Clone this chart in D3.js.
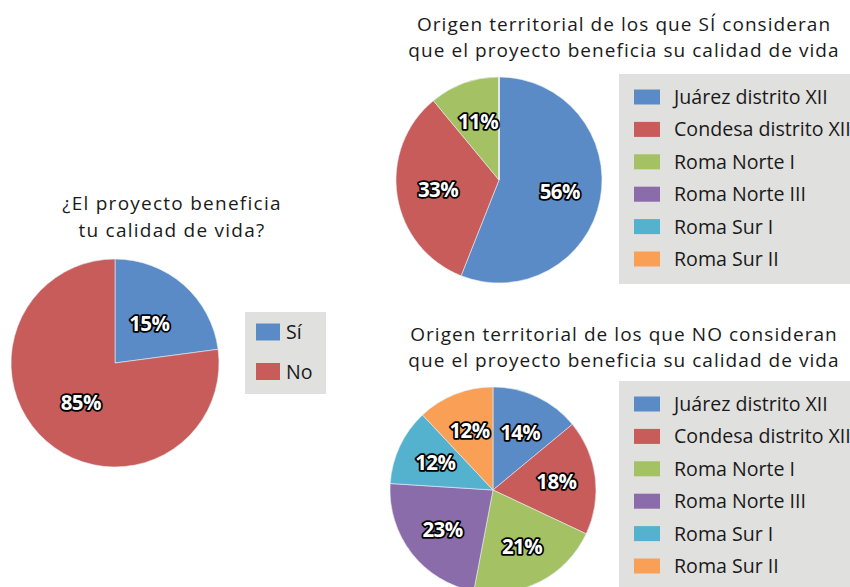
<!DOCTYPE html>
<html><head><meta charset="utf-8">
<script src="https://cdn.jsdelivr.net/npm/d3@7"></script>
<style>
html,body{margin:0;padding:0;background:#fff;}
svg text{font-family:"Open Sans","Noto Sans",sans-serif;}
</style></head>
<body>
<svg id="chart" width="850" height="587"></svg>
<script>
// ---- data ----
const mainCategories = ["Sí", "No"];
const mainLabels = ["15%", "85%"];          // printed labels
const mainShares = [22.9, 77.1];            // slice sizes as drawn in the picture
const districts = ["Juárez distrito XII", "Condesa distrito XII", "Roma Norte I", "Roma Norte III", "Roma Sur I", "Roma Sur II"];
const siValues = [56, 33, 11, 0, 0, 0];
const noValues = [14, 18, 21, 23, 12, 12];
const titleMain = ["¿El proyecto beneficia", "tu calidad de vida?"];
const titleSi = ["Origen territorial de los que SÍ consideran", "que el proyecto beneficia su calidad de vida"];
const titleNo = ["Origen territorial de los que NO consideran", "que el proyecto beneficia su calidad de vida"];

const mainColors = ["#5b8bc6", "#c75c5a"];
const districtColors = ["#5b8bc6", "#c75c5a", "#a4c163", "#8a6caa", "#55b2cf", "#f9a056"];

const svg = d3.select("#chart");

function drawTitle(lines, cx, y0, lh, fs, ls) {
  lines.forEach((l, i) => svg.append("text").attr("text-anchor", "middle")
    .attr("font-size", fs).attr("letter-spacing", ls).attr("fill", "#1a1a1a")
    .attr("x", cx).attr("y", y0 + i * lh).text(l));
}

function drawPie(values, labels, colors, cx, cy, r, labelFrac) {
  const g = svg.append("g").attr("transform", `translate(${cx},${cy})`);
  const pie = d3.pie().sort(null).value(d => d);
  const arcs = pie(values);
  const arc = d3.arc().innerRadius(0).outerRadius(r);
  g.selectAll("path").data(arcs).join("path")
    .attr("d", arc).attr("fill", (d, i) => colors[i])
    .attr("stroke", "#e8eef5").attr("stroke-width", 0.6);
  const la = d3.arc().innerRadius(r * labelFrac).outerRadius(r * labelFrac);
  g.selectAll("text").data(arcs.filter(d => d.data > 0)).join("text")
    .attr("transform", d => `translate(${la.centroid(d)})`)
    .attr("text-anchor", "middle").attr("dy", "0.36em")
    .attr("font-size", 20.5).attr("font-weight", "bold")
    .attr("letter-spacing", "-0.6")
    .attr("fill", "#fff").attr("stroke", "#000").attr("stroke-width", 3.6)
    .attr("stroke-linejoin", "round").attr("paint-order", "stroke")
    .text(d => labels[d.index]);
}

function drawLegend(names, colors, x, y, w, h, sx, sy0, step, sw, sh, tx) {
  const g = svg.append("g");
  g.append("rect").attr("x", x).attr("y", y).attr("width", w).attr("height", h).attr("fill", "#e0e0de");
  names.forEach((n, i) => {
    const cy = sy0 + i * step;
    g.append("rect").attr("x", sx).attr("y", cy - sh / 2).attr("width", sw).attr("height", sh).attr("fill", colors[i]);
    g.append("text").attr("x", tx).attr("y", cy).attr("dy", "0.36em")
      .attr("font-size", 19.6).attr("fill", "#1a1a1a").text(n);
  });
}

// Left chart
drawTitle(titleMain, 172, 210, 26.5, 19, 1.25);
drawPie(mainShares, mainLabels, mainColors, 115, 363, 104, 0.5);
drawLegend(mainCategories, mainColors, 245, 312, 81, 82, 256, 332, 39.5, 24, 17, 286);

// Top right chart
drawTitle(titleSi, 624, 31, 26, 19, 1.05);
drawPie(siValues, siValues.map(v => v + "%"), districtColors, 499, 180, 103, 0.6);
drawLegend(districts, districtColors, 619, 74, 240, 210, 634, 97, 32.4, 26, 15, 674);

// Bottom right chart
drawTitle(titleNo, 624, 341, 26, 19, 1.05);
drawPie(noValues, noValues.map(v => v + "%"), districtColors, 493, 490, 103, 0.62);
drawLegend(districts, districtColors, 619, 381, 240, 220, 634, 404, 32.4, 26, 15, 674);
</script>
</body></html>
